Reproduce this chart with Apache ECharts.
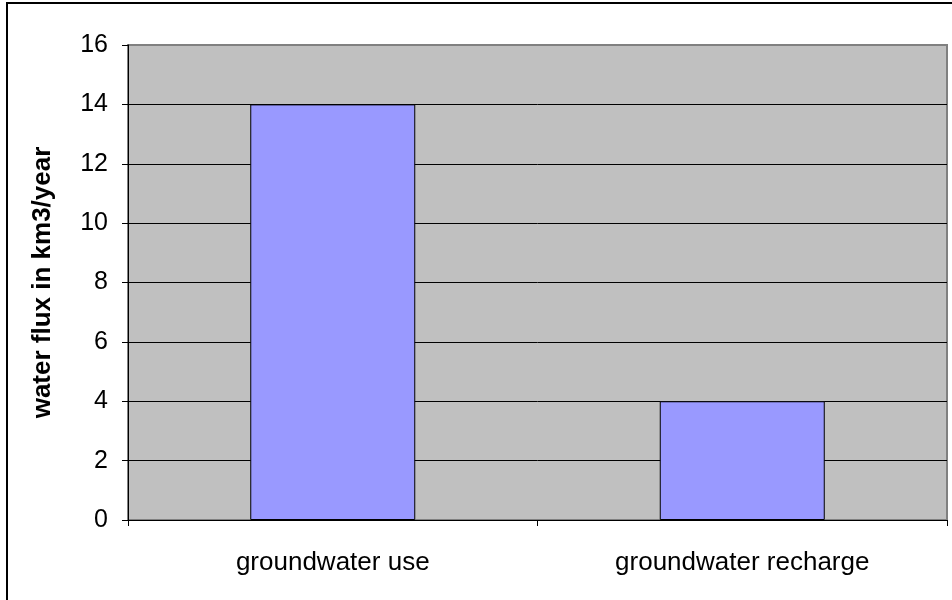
<!DOCTYPE html>
<html>
<head>
<meta charset="utf-8">
<script src="https://cdn.jsdelivr.net/npm/echarts@6/dist/echarts.min.js"></script>
<style>
  html, body { margin: 0; padding: 0; background: #ffffff; }
  #chart { width: 952px; height: 600px; }
</style>
</head>
<body>
<div id="chart"></div>
<script>
// Groundwater balance, km3 per year
const categories = ['groundwater use', 'groundwater recharge'];
const fluxValues = [14, 4];
const yTicks = { min: 0, max: 16, interval: 2 };
const yAxisTitle = 'water flux in km3/year';

const FONT = 'Arial, "Liberation Sans", sans-serif';

const chart = echarts.init(document.getElementById('chart'), null, { renderer: 'canvas' });

chart.setOption({
  animation: false,
  backgroundColor: '#ffffff',
  grid: {
    left: 128, top: 45, right: 5, bottom: 80,
    show: true,
    backgroundColor: '#c0c0c0',
    borderColor: '#808080',
    borderWidth: 2
  },
  graphic: [{
    type: 'rect',
    shape: { x: 7, y: 3, width: 1000, height: 700 },
    style: { fill: null, stroke: '#000000', lineWidth: 2 },
    silent: true,
    z: 100
  }],
  xAxis: {
    type: 'category',
    data: categories,
    boundaryGap: true,
    axisLine: { show: true, lineStyle: { color: '#000000', width: 1 } },
    axisTick: { show: true, length: 6, inside: false, lineStyle: { color: '#000000' } },
    axisLabel: { color: '#000000', fontFamily: FONT, fontSize: 26, margin: 30 },
    splitLine: { show: false }
  },
  yAxis: {
    type: 'value',
    min: yTicks.min,
    max: yTicks.max,
    interval: yTicks.interval,
    name: yAxisTitle,
    nameLocation: 'middle',
    nameRotate: 90,
    nameGap: 72,
    nameTextStyle: { color: '#000000', fontFamily: FONT, fontSize: 26, fontWeight: 'bold' },
    axisLine: { show: true, lineStyle: { color: '#000000', width: 1 } },
    axisTick: { show: true, length: 6, lineStyle: { color: '#000000' } },
    axisLabel: { color: '#000000', fontFamily: FONT, fontSize: 25, margin: 20 },
    splitLine: { show: true, showMaxLine: false, lineStyle: { color: '#000000', width: 1 } }
  },
  series: [{
    type: 'bar',
    data: fluxValues,
    barWidth: 165,
    itemStyle: { color: '#9999ff', borderColor: '#000000', borderWidth: 1 }
  }]
});
</script>
</body>
</html>
